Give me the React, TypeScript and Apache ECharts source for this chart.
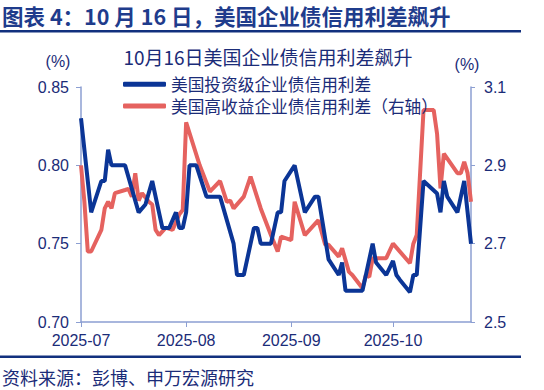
import React, { useEffect, useRef } from "react";
import * as echarts from "echarts";

const igName = "美国投资级企业债信用利差";
const hyName = "美国高收益企业债信用利差（右轴）";

const igDates = [
  "2025-07-01", "2025-07-04", "2025-07-07", "2025-07-08", "2025-07-09", "2025-07-10",
  "2025-07-14", "2025-07-18", "2025-07-20", "2025-07-22", "2025-07-24", "2025-07-25",
  "2025-07-27", "2025-07-29", "2025-07-30", "2025-07-31", "2025-08-01", "2025-08-02",
  "2025-08-04", "2025-08-07", "2025-08-11", "2025-08-15", "2025-08-16", "2025-08-18",
  "2025-08-21", "2025-08-22", "2025-08-23", "2025-08-26", "2025-08-28", "2025-08-29",
  "2025-08-30", "2025-09-02", "2025-09-05", "2025-09-08", "2025-09-09", "2025-09-12",
  "2025-09-15", "2025-09-16", "2025-09-17", "2025-09-22", "2025-09-25", "2025-09-26",
  "2025-09-29", "2025-10-01", "2025-10-02", "2025-10-03", "2025-10-06", "2025-10-07",
  "2025-10-08", "2025-10-10", "2025-10-14", "2025-10-15", "2025-10-16", "2025-10-17",
  "2025-10-20", "2025-10-22", "2025-10-24",
];
const igValues = [
  0.83, 0.77, 0.79, 0.79, 0.81, 0.8,
  0.8, 0.77, 0.775, 0.79, 0.77, 0.76,
  0.76, 0.77, 0.76, 0.76, 0.77, 0.8,
  0.8, 0.78, 0.78, 0.75, 0.73, 0.73,
  0.76, 0.76, 0.75, 0.75, 0.77, 0.77,
  0.79, 0.8, 0.77, 0.78, 0.78, 0.74,
  0.73, 0.738, 0.72, 0.72, 0.75, 0.738,
  0.73, 0.739, 0.73, 0.727, 0.719, 0.73,
  0.73, 0.79, 0.782, 0.77, 0.79, 0.78,
  0.77, 0.79, 0.75,
];

const hyDates = [
  "2025-07-01", "2025-07-02", "2025-07-03", "2025-07-04", "2025-07-07", "2025-07-08",
  "2025-07-09", "2025-07-10", "2025-07-11", "2025-07-14", "2025-07-15", "2025-07-16",
  "2025-07-17", "2025-07-18", "2025-07-19", "2025-07-21", "2025-07-22", "2025-07-23",
  "2025-07-24", "2025-07-26", "2025-07-28", "2025-07-30", "2025-07-31", "2025-08-01",
  "2025-08-05", "2025-08-08", "2025-08-11", "2025-08-13", "2025-08-14", "2025-08-15",
  "2025-08-18", "2025-08-20", "2025-08-23", "2025-08-26", "2025-08-28", "2025-08-29",
  "2025-09-01", "2025-09-02", "2025-09-05", "2025-09-09", "2025-09-11", "2025-09-12",
  "2025-09-15", "2025-09-16", "2025-09-18", "2025-09-19", "2025-09-22", "2025-09-23",
  "2025-09-24", "2025-09-25", "2025-09-29", "2025-10-01", "2025-10-06", "2025-10-07",
  "2025-10-08", "2025-10-10", "2025-10-13", "2025-10-14", "2025-10-15", "2025-10-16",
  "2025-10-20", "2025-10-21", "2025-10-22", "2025-10-23", "2025-10-24",
];
const hyValues = [
  2.9, 2.807, 2.68, 2.68, 2.735, 2.79,
  2.807, 2.79, 2.829, 2.837, 2.84, 2.82,
  2.88, 2.81, 2.829, 2.807, 2.8, 2.735,
  2.722, 2.741, 2.735, 2.775, 2.786, 3.01,
  2.9, 2.833, 2.86, 2.807, 2.81, 2.79,
  2.82, 2.871, 2.79, 2.722, 2.68, 2.718,
  2.709, 2.807, 2.722, 2.76, 2.697, 2.697,
  2.667, 2.688, 2.628, 2.62, 2.586, 2.62,
  2.615, 2.663, 2.663, 2.7, 2.65, 2.7,
  2.722, 3.041, 3.041, 2.98, 2.841, 2.93,
  2.88, 2.88, 2.909, 2.88, 2.807,
];

const xStart = "2025-07-01";
const xEnd = "2025-10-24";
const monthTicks = ["2025-07-01", "2025-08-01", "2025-09-01", "2025-10-01"];
const monthLabels = ["2025-07", "2025-08", "2025-09", "2025-10"];
const leftTicks = [0.7, 0.75, 0.8, 0.85];
const rightTicks = [2.5, 2.7, 2.9, 3.1];

const NAVY = "#1B2C78";
const TITLE_BLUE = "#1F3C8C";
const RULE = "#12307E";
const AXIS = "#8C9FD2";
const BLUE = "#0B3596";
const RED = "#E5625F";
const FONT = "'Liberation Sans', 'Noto Sans CJK SC', sans-serif";
const CJK = "'Noto Sans CJK SC', 'Liberation Sans', sans-serif";

const DAY = 86400000;
function dayIndex(s: string): number {
  const [y, m, d] = s.split("-").map(Number);
  const [y0, m0, d0] = xStart.split("-").map(Number);
  return Math.round((Date.UTC(y, m - 1, d) - Date.UTC(y0, m0 - 1, d0)) / DAY);
}

export default function App() {
  const ref = useRef<HTMLDivElement>(null);

  useEffect(() => {
    if (!ref.current) return;
    const chart = echarts.init(ref.current, null, { renderer: "svg" });
    const igData = igDates.map((d, i) => [dayIndex(d), igValues[i]]);
    const hyData = hyDates.map((d, i) => [dayIndex(d), hyValues[i]]);
    const monthPos = monthTicks.map(dayIndex);

    chart.setOption({
      animation: false,
      backgroundColor: "#ffffff",
      textStyle: { fontFamily: FONT },
      grid: { left: 81, right: 73, top: 87, bottom: 68, containLabel: false },
      legend: {
        orient: "vertical",
        left: 123,
        top: 76,
        padding: 0,
        itemGap: 5,
        itemWidth: 43,
        itemHeight: 5,
        icon: "roundRect",
        textStyle: { fontSize: 16.7, color: NAVY, fontFamily: CJK },
        data: [
          { name: igName, itemStyle: { color: BLUE } },
          { name: hyName, itemStyle: { color: RED } },
        ],
      },
      xAxis: {
        type: "value",
        min: 0,
        max: dayIndex(xEnd),
        axisLine: { show: true, lineStyle: { color: AXIS, width: 1.5 } },
        axisTick: {
          show: true,
          length: 5,
          customValues: monthPos,
          lineStyle: { color: AXIS },
        },
        axisLabel: {
          customValues: monthPos,
          fontSize: 16,
          color: NAVY,
          margin: 10,
          formatter: (v: number) => {
            const i = monthPos.indexOf(Math.round(v));
            return i >= 0 ? monthLabels[i] : "";
          },
        },
        splitLine: { show: false },
      },
      yAxis: [
        {
          type: "value",
          min: 0.7,
          max: 0.85,
          position: "left",
          axisLine: { show: true, lineStyle: { color: AXIS, width: 1.5 } },
          axisTick: { show: true, length: 5, customValues: leftTicks, lineStyle: { color: AXIS } },
          axisLabel: {
            customValues: leftTicks,
            fontSize: 16,
            color: NAVY,
            margin: 12,
            formatter: (v: number) => v.toFixed(2),
          },
          splitLine: { show: false },
        },
        {
          type: "value",
          min: 2.5,
          max: 3.1,
          position: "right",
          axisLine: { show: true, lineStyle: { color: AXIS, width: 1.5 } },
          axisTick: { show: true, length: 4, customValues: rightTicks, lineStyle: { color: AXIS } },
          axisLabel: {
            customValues: rightTicks,
            fontSize: 16,
            color: NAVY,
            margin: 13,
            formatter: (v: number) => v.toFixed(1),
          },
          splitLine: { show: false },
        },
      ],
      series: [
        {
          name: igName,
          type: "line",
          yAxisIndex: 0,
          data: igData,
          symbol: "none",
          z: 3,
          lineStyle: { color: BLUE, width: 4 },
          itemStyle: { color: BLUE },
        },
        {
          name: hyName,
          type: "line",
          yAxisIndex: 1,
          data: hyData,
          symbol: "none",
          z: 2,
          lineStyle: { color: RED, width: 4 },
          itemStyle: { color: RED },
        },
      ],
      graphic: [
        {
          type: "text",
          left: 2,
          top: 5,
          style: {
            text: "图表 4：10 月 16 日，美国企业债信用利差飙升",
            fontSize: 21.5,
            fontWeight: "bold",
            fill: TITLE_BLUE,
            fontFamily: CJK,
          },
        },
        {
          type: "rect",
          shape: { x: 0, y: 30, width: 521, height: 2.5 },
          style: { fill: RULE },
        },
        {
          type: "text",
          x: 268,
          y: 56,
          style: {
            text: "10月16日美国企业债信用利差飙升",
            fontSize: 19,
            fill: NAVY,
            fontFamily: CJK,
            textAlign: "center",
            textVerticalAlign: "middle",
          },
        },
        {
          type: "text",
          x: 58,
          y: 61,
          style: {
            text: "(%)",
            fontSize: 16,
            fill: NAVY,
            fontFamily: FONT,
            textAlign: "center",
            textVerticalAlign: "middle",
          },
        },
        {
          type: "text",
          x: 467,
          y: 64,
          style: {
            text: "(%)",
            fontSize: 16,
            fill: NAVY,
            fontFamily: FONT,
            textAlign: "center",
            textVerticalAlign: "middle",
          },
        },
        {
          type: "rect",
          shape: { x: 0, y: 355.5, width: 521, height: 2.5 },
          style: { fill: RULE },
        },
        {
          type: "text",
          left: 2,
          top: 368,
          style: {
            text: "资料来源：彭博、申万宏源研究",
            fontSize: 18,
            fill: NAVY,
            fontFamily: CJK,
          },
        },
      ],
    });

    return () => {
      chart.dispose();
    };
  }, []);

  return (
    <div
      ref={ref}
      style={{ position: "fixed", left: 0, top: 0, width: 544, height: 390, background: "#fff" }}
    />
  );
}
